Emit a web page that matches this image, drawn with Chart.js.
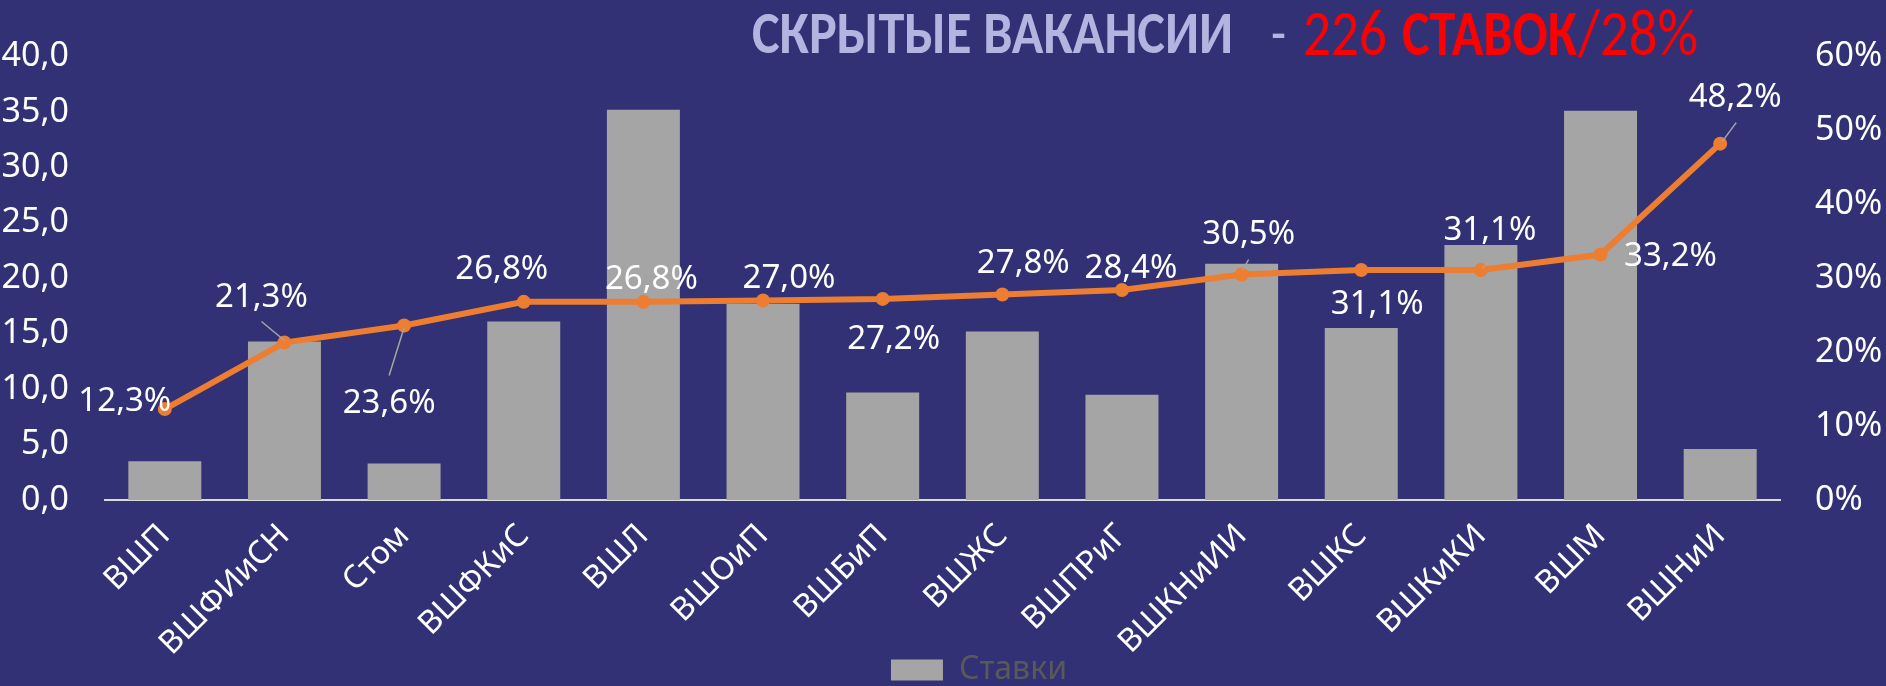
<!DOCTYPE html>
<html><head><meta charset="utf-8">
<script src="https://cdn.jsdelivr.net/npm/chart.js@4/dist/chart.umd.min.js"></script>
<style>
html,body{margin:0;padding:0;background:#333175;}
#wrap{position:relative;width:1886px;height:686px;}
canvas{display:block;}
</style></head><body>
<div id="wrap"><canvas id="c" width="1886" height="686"></canvas></div>
<script>
const categories = ['ВШП','ВШФИиСН','Стом','ВШФКиС','ВШЛ','ВШОиП','ВШБиП','ВШЖС','ВШПРиГ','ВШКНиИИ','ВШКС','ВШКиКИ','ВШМ','ВШНиИ'];
const stavki = [3.5, 14.3, 3.3, 16.1, 35.2, 17.7, 9.7, 15.2, 9.5, 21.3, 15.5, 23.0, 35.1, 4.6];
const shares = [12.3, 21.3, 23.6, 26.8, 26.8, 27.0, 27.2, 27.8, 28.4, 30.5, 31.1, 31.1, 33.2, 48.2];
const leftTickLabels = ['0,0','5,0','10,0','15,0','20,0','25,0','30,0','35,0','40,0'];
const rightTickLabels = ['0%','10%','20%','30%','40%','50%','60%'];
const seriesNames = ['Ставки', 'Доля скрытых вакансий'];
const titleParts = ['СКРЫТЫЕ ВАКАНСИИ', '-', '226', 'СТАВОК', '/28%'];

const FONT = "'Noto Sans', sans-serif";
const TITLE_FONT = "Carlito, 'Noto Sans', sans-serif";
const BG = '#333175';

const bgPlugin = {
  id: 'bg',
  beforeDraw(chart){ const c=chart.ctx; c.save(); c.fillStyle=BG; c.fillRect(0,0,chart.width,chart.height); c.restore(); }
};

const titlePlugin = {
  id: 'titleSegs',
  afterDraw(chart){
    const segs = [
      {text:titleParts[0], x0:752, x1:1233, base:53, size:60, weight:'bold', color:'#b4b4e0'},
      {text:titleParts[1], x0:1271, x1:1286, base:53, size:60, weight:'normal', color:'#b4b4e0'},
      {text:titleParts[2], x0:1303, x1:1387, base:55, size:65, weight:'normal', color:'#ff0000'},
      {text:titleParts[3], x0:1402, x1:1577, base:55, size:65, weight:'bold', color:'#ff0000'},
      {text:titleParts[4], x0:1578, x1:1698, base:55, size:65, weight:'normal', color:'#ff0000'}
    ];
    const ctx = chart.ctx;
    segs.forEach(s=>{
      ctx.save();
      ctx.font = s.weight+' '+s.size+'px '+TITLE_FONT;
      const w = ctx.measureText(s.text).width;
      ctx.translate(s.x0, s.base);
      ctx.scale((s.x1-s.x0)/w, 1);
      ctx.fillStyle = s.color; ctx.textAlign='left'; ctx.textBaseline='alphabetic';
      ctx.fillText(s.text, 0, 0);
      ctx.restore();
    });
  }
};

const labelPlugin = {
  id: 'pctLabels',
  afterDatasetsDraw(chart){
    const offs = [[-40,-7],[-23,-45],[-15,78],[-22,-32],[8,-22],[26,-22],[11,41],[21,-31],[9,-21],[7,-40],[16,35],[9,-39],[70,2],[15,-46]];
    const leaders = {1:[[-23,-21],[0,-2]], 2:[[0,2],[-15,50]], 9:[[7,-15],[1,-4]], 11:[[7,-8],[2,-2]], 13:[[16,-21],[2,-2]]};
    const meta = chart.getDatasetMeta(1);
    const ctx = chart.ctx;
    ctx.save();
    ctx.strokeStyle = '#a6a6a6'; ctx.lineWidth = 1.5;
    Object.keys(leaders).forEach(k=>{
      const p = meta.data[k]; const l = leaders[k];
      ctx.beginPath(); ctx.moveTo(p.x+l[0][0], p.y+l[0][1]); ctx.lineTo(p.x+l[1][0], p.y+l[1][1]); ctx.stroke();
    });
    ctx.font = '33px '+FONT; ctx.fillStyle='#ffffff'; ctx.textAlign='center'; ctx.textBaseline='middle';
    meta.data.forEach((p,i)=>{
      const t = shares[i].toFixed(1).replace('.',',')+'%';
      ctx.fillText(t, p.x+offs[i][0], p.y+offs[i][1]);
    });
    ctx.restore();
  }
};

const legendShift = {
  id: 'legendShift',
  afterLayout(chart){ if(chart.legend){ chart.legend.left += 36; chart.legend.right += 36; } }
};

new Chart(document.getElementById('c'), {
  data: {
    labels: categories,
    datasets: [
      {type:'bar', label:seriesNames[0], data:stavki, backgroundColor:'#a5a5a5', borderWidth:0,
       barPercentage:0.61, categoryPercentage:1.0, yAxisID:'y', order:2},
      {type:'line', label:seriesNames[1], data:shares, borderColor:'#ed7d31', backgroundColor:'#ed7d31',
       borderWidth:6, pointRadius:7, pointBackgroundColor:'#ed7d31', pointBorderWidth:0, tension:0,
       yAxisID:'y1', order:1}
    ]
  },
  options: {
    responsive:false, animation:false, devicePixelRatio:1,
    layout:{padding:{top:52, left:0, right:0, bottom:-10}},
    plugins:{
      title:{display:false}, tooltip:{enabled:false},
      legend:{position:'bottom', labels:{boxWidth:52, boxHeight:21, color:'#595959', padding:0,
        font:{size:32, family:FONT}, filter:(item)=>item.datasetIndex===0}}
    },
    scales:{
      x:{grid:{display:false, drawTicks:false}, border:{display:true, color:'#d9d9d9', width:2},
         ticks:{color:'#ffffff', font:{size:32, family:FONT}, maxRotation:45, minRotation:45, autoSkip:false, padding:17},
         afterFit(s){ s.height = 154; }},
      y:{position:'left', min:0, max:40, grid:{display:false, drawTicks:false}, border:{display:false},
         ticks:{stepSize:5, color:'#ffffff', font:{size:34, family:FONT}, padding:36,
           callback:(v)=>leftTickLabels[Math.round(v/5)]},
         afterFit(s){ s.width = 105; }},
      y1:{position:'right', min:0, max:60, grid:{display:false, drawTicks:false}, border:{display:false},
         ticks:{stepSize:10, color:'#ffffff', font:{size:34, family:FONT}, padding:35,
           callback:(v)=>rightTickLabels[Math.round(v/10)]},
         afterFit(s){ s.width = 106; }}
    }
  },
  plugins:[bgPlugin, titlePlugin, labelPlugin, legendShift]
});
</script>
</body></html>
